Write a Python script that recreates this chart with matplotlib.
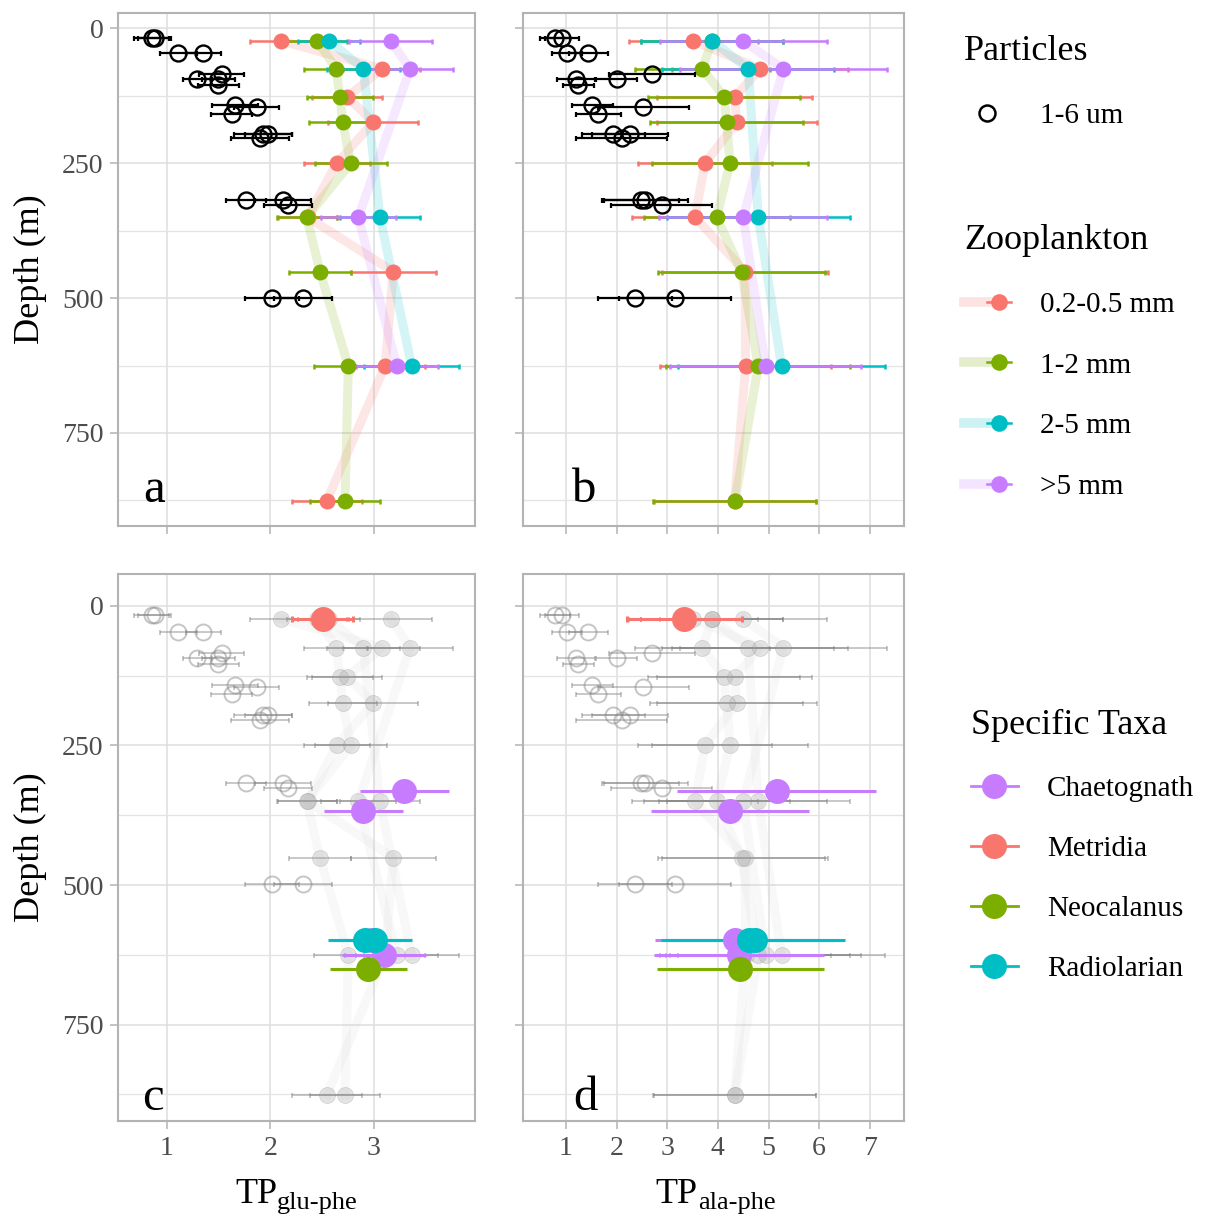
import numpy as np
import matplotlib
matplotlib.use('Agg')
import matplotlib.pyplot as plt
from matplotlib.lines import Line2D
from matplotlib.legend_handler import HandlerTuple

plt.rcParams['font.family'] = ['Liberation Serif', 'DejaVu Serif']

# ---------------- data ----------------
# Particles 1-6 um
part_depth = [17, 17, 46, 46, 84, 93, 93, 105, 142, 145, 158, 195, 195, 204, 318, 318, 327, 499, 499]
part_glu = [0.852, 0.884, 1.110, 1.352, 1.530, 1.294, 1.497, 1.497, 1.658, 1.868, 1.626,
            1.932, 1.981, 1.900, 1.765, 2.126, 2.174, 2.013, 2.319]
part_glu_sd = [0.17, 0.16, 0.18, 0.17, 0.22, 0.14, 0.16, 0.20, 0.22, 0.22, 0.20,
               0.28, 0.23, 0.28, 0.19, 0.27, 0.23, 0.26, 0.28]
part_ala = [0.789, 0.920, 1.019, 1.446, 2.695, 1.196, 2.004, 1.249, 1.525, 2.530, 1.643,
            1.939, 2.267, 2.103, 2.484, 2.563, 2.892, 2.366, 3.155]
part_ala_sd = [0.30, 0.33, 0.30, 0.39, 0.85, 0.37, 0.40, 0.30, 0.40, 0.90, 0.45,
               0.63, 0.75, 0.90, 0.74, 0.85, 1.00, 0.73, 1.10]

# Zooplankton size classes
zoo_labels = ['0.2-0.5 mm', '1-2 mm', '2-5 mm', '>5 mm']
zoo_colors = ['#F8766D', '#7CAE00', '#00BFC4', '#C77CFF']

z02_depth = [23, 75, 127, 174, 250, 350, 451, 626, 876]
z02_glu = [2.100, 3.078, 2.745, 2.997, 2.642, 2.360, 3.190, 3.110, 2.546]
z02_glu_sd = [0.30, 0.37, 0.34, 0.435, 0.32, 0.29, 0.41, 0.39, 0.34]
z02_ala = [3.516, 4.830, 4.337, 4.370, 3.746, 3.549, 4.535, 4.548, 4.330]
z02_ala_sd = [1.27, 1.74, 1.53, 1.58, 1.33, 1.24, 1.64, 1.69, 1.60]

z12_depth = [23, 75, 127, 174, 250, 350, 451, 626, 876]
z12_glu = [2.455, 2.636, 2.674, 2.700, 2.778, 2.352, 2.481, 2.755, 2.723]
z12_glu_sd = [0.29, 0.31, 0.32, 0.33, 0.35, 0.29, 0.30, 0.33, 0.335]
z12_ala = [3.887, 3.693, 4.127, 4.173, 4.239, 3.976, 4.469, 4.798, 4.337]
z12_ala_sd = [1.40, 1.33, 1.50, 1.51, 1.545, 1.44, 1.65, 1.82, 1.61]

z25_depth = [23, 75, 350, 626]
z25_glu = [2.568, 2.900, 3.061, 3.368]
z25_glu_sd = [0.30, 0.35, 0.39, 0.46]
z25_ala = [3.891, 4.600, 4.798, 5.258]
z25_ala_sd = [1.40, 1.70, 1.81, 2.04]

z5_depth = [23, 75, 350, 626]
z5_glu = [3.165, 3.352, 2.852, 3.223]
z5_glu_sd = [0.40, 0.415, 0.365, 0.395]
z5_ala = [4.502, 5.290, 4.502, 4.942]
z5_ala_sd = [1.65, 2.04, 1.66, 1.88]

# Specific taxa
taxa_labels = ['Chaetognath', 'Metridia', 'Neocalanus', 'Radiolarian']
taxa_colors = ['#C77CFF', '#F8766D', '#7CAE00', '#00BFC4']

chaet_depth = [331, 368, 599, 625]
chaet_glu = [3.294, 2.900, 2.980, 3.100]
chaet_glu_sd = [0.43, 0.385, 0.38, 0.41]
chaet_ala = [5.16, 4.24, 4.34, 4.42]
chaet_ala_sd = [1.97, 1.56, 1.59, 1.68]

metr_depth = [23]
metr_glu = [2.507]
metr_glu_sd = [0.295]
metr_ala = [3.34]
metr_ala_sd = [1.13]

neoc_depth = [651]
neoc_glu = [2.948]
neoc_glu_sd = [0.37]
neoc_ala = [4.44]
neoc_ala_sd = [1.65]

radi_depth = [599, 599]
radi_glu = [2.916, 3.013]
radi_glu_sd = [0.36, 0.36]
radi_ala = [4.62, 4.74]
radi_ala_sd = [1.75, 1.77]

# ---------------- figure ----------------
W, H = 1206, 1216
fig = plt.figure(figsize=(W / 100, H / 100), dpi=100)


def px_axes(x0, y0, x1, y1):
    return fig.add_axes([x0 / W, 1 - y1 / H, (x1 - x0) / W, (y1 - y0) / H])


ax_a = px_axes(118.3, 12.7, 475, 526)
ax_b = px_axes(523.3, 12.7, 904.3, 526)
ax_c = px_axes(118.3, 574, 475, 1121)
ax_d = px_axes(523.3, 574, 904.3, 1121)

zoo_glu = [(z02_depth, z02_glu, z02_glu_sd), (z12_depth, z12_glu, z12_glu_sd),
           (z25_depth, z25_glu, z25_glu_sd), (z5_depth, z5_glu, z5_glu_sd)]
zoo_ala = [(z02_depth, z02_ala, z02_ala_sd), (z12_depth, z12_ala, z12_ala_sd),
           (z25_depth, z25_ala, z25_ala_sd), (z5_depth, z5_ala, z5_ala_sd)]
taxa_glu = [(chaet_depth, chaet_glu, chaet_glu_sd), (metr_depth, metr_glu, metr_glu_sd),
            (neoc_depth, neoc_glu, neoc_glu_sd), (radi_depth, radi_glu, radi_glu_sd)]
taxa_ala = [(chaet_depth, chaet_ala, chaet_ala_sd), (metr_depth, metr_ala, metr_ala_sd),
            (neoc_depth, neoc_ala, neoc_ala_sd), (radi_depth, radi_ala, radi_ala_sd)]
taxa_caps = [0, 2.2, 0, 0]


def draw_main(ax, zoo, px, psd):
    for (d, x, sd), c in zip(zoo, zoo_colors):
        ax.plot(x, d, color=c, alpha=0.17, lw=6.5, solid_joinstyle='round', zorder=1)
    for (d, x, sd), c in zip(zoo, zoo_colors):
        ax.errorbar(x, d, xerr=sd, fmt='none', ecolor=c, elinewidth=1.8,
                    capsize=1.8, capthick=1.8, zorder=2)
    for (d, x, sd), c in zip(zoo, zoo_colors):
        ax.plot(x, d, 'o', color=c, ms=11.5, mec='none', zorder=3)
    ax.errorbar(px, part_depth, xerr=psd, fmt='none', ecolor='black', elinewidth=1.6,
                capsize=1.8, capthick=1.6, zorder=4)
    ax.plot(px, part_depth, 'o', mfc='none', mec='black', ms=11.5, mew=1.7, zorder=5)


def draw_taxa(ax, zoo, px, psd, taxa):
    for (d, x, sd) in zoo:
        ax.plot(x, d, color='#C8C8C8', alpha=0.12, lw=6.5, solid_joinstyle='round', zorder=1)
    for (d, x, sd) in zoo:
        ax.errorbar(x, d, xerr=sd, fmt='none', ecolor='#7F7F7F', alpha=0.5,
                    elinewidth=1.2, capsize=1.8, capthick=1.2, zorder=2)
        ax.plot(x, d, 'o', color='#A0A0A0', alpha=0.28, ms=11.5, mec='#8A8A8A', mew=0.6, zorder=3)
    ax.errorbar(px, part_depth, xerr=psd, fmt='none', ecolor='#7F7F7F', alpha=0.5,
                elinewidth=1.2, capsize=1.8, capthick=1.2, zorder=2)
    ax.plot(px, part_depth, 'o', mfc='none', mec='#7F7F7F', alpha=0.45, ms=11.5, mew=1.4, zorder=3)
    for (d, x, sd), c, cs in zip(taxa, taxa_colors, taxa_caps):
        ax.errorbar(x, d, xerr=sd, fmt='none', ecolor=c, elinewidth=2.2,
                    capsize=cs, capthick=2.2, zorder=4)
    for (d, x, sd), c in zip(taxa, taxa_colors):
        ax.plot(x, d, 'o', color=c, ms=18, mec='none', zorder=5)


draw_main(ax_a, zoo_glu, part_glu, part_glu_sd)
draw_main(ax_b, zoo_ala, part_ala, part_ala_sd)
draw_taxa(ax_c, zoo_glu, part_glu, part_glu_sd, taxa_glu)
draw_taxa(ax_d, zoo_ala, part_ala, part_ala_sd, taxa_ala)

for ax in (ax_a, ax_b, ax_c, ax_d):
    ax.set_yticks([0, 250, 500, 750])
    ax.set_yticks([125, 375, 625, 875], minor=True)
    ax.grid(which='major', color='#DEDEDE', lw=1.1, zorder=0)
    ax.grid(which='minor', axis='y', color='#E3E3E3', lw=0.9, zorder=0)
    ax.set_axisbelow(True)
    for s in ax.spines.values():
        s.set_color('#B3B3B3')
        s.set_linewidth(1.5)
    ax.tick_params(which='major', length=5.5, width=1.1, color='#B3B3B3',
                   labelcolor='#4D4D4D', labelsize=20, pad=5)
    ax.tick_params(which='minor', length=0)

for ax in (ax_a, ax_c):
    ax.set_xlim(0.53, 3.98)
    ax.set_xticks([1, 2, 3])
for ax in (ax_b, ax_d):
    ax.set_xlim(0.16, 7.68)
    ax.set_xticks([1, 2, 3, 4, 5, 6, 7])
for ax in (ax_a, ax_b):
    ax.set_ylim(922.5, -29)
    ax.tick_params(labelbottom=False)
for ax in (ax_c, ax_d):
    ax.set_ylim(922.5, -57)
for ax in (ax_b, ax_d):
    ax.tick_params(labelleft=False)
for ax in (ax_a, ax_c):
    ax.set_ylabel('Depth (m)', fontsize=26, va='center')
    ax.yaxis.set_label_coords(-0.245, 0.5)

# panel letters
ax_a.text(0.100, 0.047, 'a', transform=ax_a.transAxes, ha='center', va='baseline', fontsize=35)
ax_b.text(0.159, 0.047, 'b', transform=ax_b.transAxes, ha='center', va='baseline', fontsize=35)
ax_c.text(0.096, 0.021, 'c', transform=ax_c.transAxes, ha='center', va='baseline', fontsize=35)
ax_d.text(0.162, 0.021, 'd', transform=ax_d.transAxes, ha='center', va='baseline', fontsize=35)

# x axis titles with subscripts
ax_c.text(0.445, -0.150, 'TP', transform=ax_c.transAxes, ha='right', va='baseline', fontsize=26)
ax_c.text(0.445, -0.160, 'glu-phe', transform=ax_c.transAxes, ha='left', va='baseline', fontsize=19)
ax_d.text(0.4585, -0.150, 'TP', transform=ax_d.transAxes, ha='right', va='baseline', fontsize=26)
ax_d.text(0.4585, -0.160, 'ala-phe', transform=ax_d.transAxes, ha='left', va='baseline', fontsize=19)

# ---------------- legends ----------------
common = dict(loc='upper left', frameon=False, fontsize=21, title_fontsize=26,
              alignment='left', borderpad=0, borderaxespad=0, handlelength=1.6,
              handletextpad=1.0)

h_part = [Line2D([], [], ls='none', marker='o', mfc='none', mec='black', ms=11.5, mew=1.8)]
fig.legend(h_part, ['1-6 um'], title='Particles', bbox_to_anchor=(964 / W, 1 - 35 / H),
           labelspacing=1.18, **common)

h_zoo = [(Line2D([], [], color=c, lw=7, alpha=0.2),
          Line2D([], [], color=c, lw=1.8, marker='o', ms=12, mec='none')) for c in zoo_colors]
fig.legend(h_zoo, zoo_labels, title='Zooplankton', bbox_to_anchor=(964 / W, 1 - 224 / H),
           labelspacing=1.18, handler_map={tuple: HandlerTuple(ndivide=None)}, **common)

h_taxa = [Line2D([], [], color=c, lw=2, marker='o', ms=18, mec='none') for c in taxa_colors]
fig.legend(h_taxa, taxa_labels, title='Specific Taxa', bbox_to_anchor=(971 / W, 1 - 709 / H),
           labelspacing=1.15, **common)

fig.savefig('out.png', dpi=100)
